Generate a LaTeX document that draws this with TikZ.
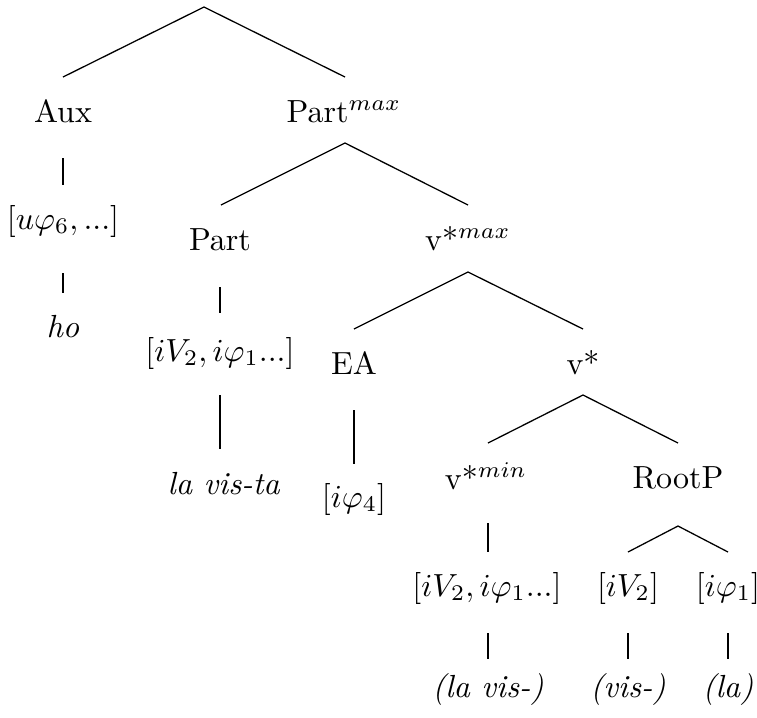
\documentclass[tikz,border=0pt]{standalone}
\begin{document}
\begin{tikzpicture}[x=0.3125pt,y=-0.3125pt,
  lbl/.style={anchor=base,inner sep=0pt,outer sep=0pt},
  br/.style={line width=0.4pt}]
\useasboundingbox (0,0) rectangle (757,717);
% labels
\node[lbl] (aux) at (63,122) {Aux};
\node[lbl] (partmax) at (344,122) {Part$^{max}$};
\node[lbl] (uphi) at (63,229) {$[u\varphi_6, ...]$};
\node[lbl] (ho) at (63,337) {\textit{ho}};
\node[lbl] (part) at (220,250) {Part};
\node[lbl] (vmax) at (468,250) {v*$^{max}$};
\node[lbl] (ivphiA) at (220,361) {$[iV_2, i\varphi_1...]$};
\node[lbl] (lavista) at (224,494) {\textit{la vis-ta}};
\node[lbl] (ea) at (354,374) {EA};
\node[lbl] (vstar) at (583,374) {v*};
\node[lbl] (iphi4) at (354,507) {$[i\varphi_4]$};
\node[lbl] (vmin) at (486,489) {v*$^{min}$};
\node[lbl] (rootp) at (678,488) {RootP};
\node[lbl] (ivphiB) at (487,596) {$[iV_2, i\varphi_1...]$};
\node[lbl] (iv2) at (628,596) {$[iV_2]$};
\node[lbl] (iphi1) at (728,596) {$[i\varphi_1]$};
\node[lbl] (lavis) at (488,697) {\textit{(la vis-)}};
\node[lbl] (vis) at (628,697) {\textit{(vis-)}};
\node[lbl] (la) at (728,697) {\textit{(la)}};
% branch points
\coordinate (root) at (204,7);
\coordinate (auxT) at (63,77);
\coordinate (pmT) at (345,77);
\coordinate (pmB) at (345,143);
\coordinate (partT) at (221,205);
\coordinate (vmaxT) at (468,205);
\coordinate (vmaxB) at (468,272);
\coordinate (eaT) at (354,329);
\coordinate (vstarT) at (583,329);
\coordinate (vstarB) at (583,395);
\coordinate (vminT) at (488,443);
\coordinate (rootpT) at (678,443);
\coordinate (rootpB) at (678,526);
\coordinate (iv2T) at (628,552);
\coordinate (iphi1T) at (728,552);
% vertical stems
\coordinate (a1) at (63,158); \coordinate (a2) at (63,185);
\coordinate (a3) at (63,273); \coordinate (a4) at (63,293);
\coordinate (p1) at (220,287); \coordinate (p2) at (220,313);
\coordinate (p3) at (220,395); \coordinate (p4) at (220,449);
\coordinate (e1) at (354,410); \coordinate (e2) at (354,464);
\coordinate (m1) at (488,523); \coordinate (m2) at (488,552);
\coordinate (m3) at (488,633); \coordinate (m4) at (488,659);
\coordinate (r1) at (628,633); \coordinate (r2) at (628,659);
\coordinate (s1) at (728,633); \coordinate (s2) at (728,659);
\begin{scope}[br]
\draw (auxT) -- (root) -- (pmT);
\draw (partT) -- (pmB) -- (vmaxT);
\draw (eaT) -- (vmaxB) -- (vstarT);
\draw (vminT) -- (vstarB) -- (rootpT);
\draw (iv2T) -- (rootpB) -- (iphi1T);
\draw (a1) -- (a2); \draw (a3) -- (a4);
\draw (p1) -- (p2); \draw (p3) -- (p4);
\draw (e1) -- (e2);
\draw (m1) -- (m2); \draw (m3) -- (m4);
\draw (r1) -- (r2); \draw (s1) -- (s2);
\end{scope}
\end{tikzpicture}
\end{document}
